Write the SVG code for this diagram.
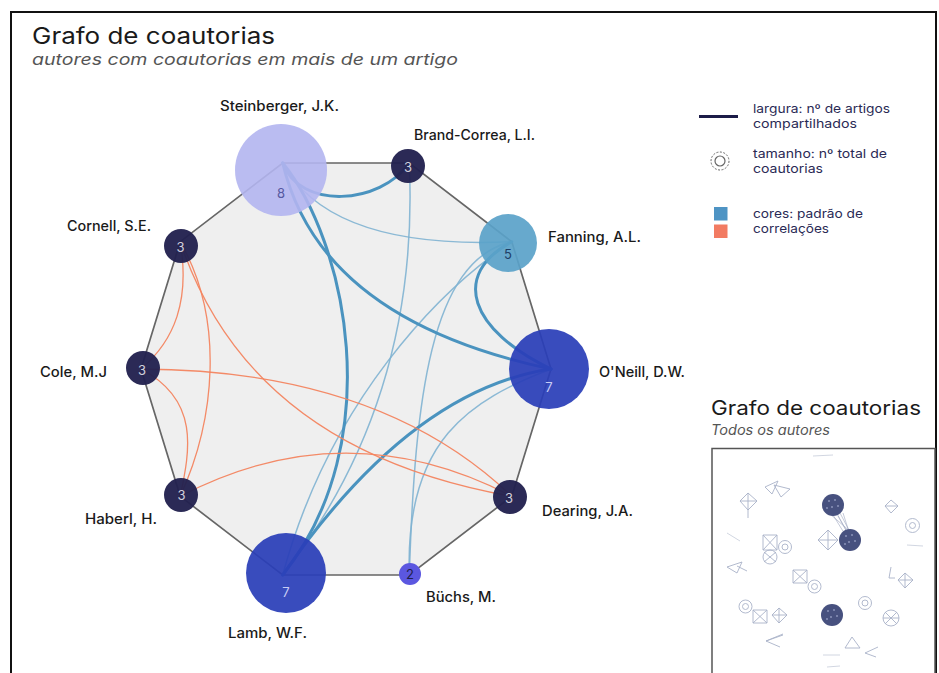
<svg xmlns="http://www.w3.org/2000/svg" width="939" height="673" viewBox="0 0 939 673">
<style>
text{font-family:"Inter","Liberation Sans",sans-serif}
.lbl{font-size:14px;font-weight:500;fill:#1a1a1a}
.num{font-size:13px;text-anchor:middle}
.eb{fill:none;stroke:#4a93bf;stroke-width:3;stroke-linecap:round}
.et{fill:none;stroke:#7fb3d2;stroke-width:1.5;opacity:.9}
.er{fill:none;stroke:#f3845f;stroke-width:1.3;opacity:.95}
.dark{fill:#22214f;opacity:.96}
.leg{font-size:12px;fill:#2a2a55}
.ins{fill:none;stroke:#a9b2c8;stroke-width:.9}
.insl{fill:none;stroke:#c5cbd9;stroke-width:.8}
.blob{fill:#47517f}
</style>
<rect x="0" y="0" width="939" height="673" fill="#fff"/>
<rect x="11" y="12" width="925" height="690" fill="none" stroke="#111" stroke-width="2"/>
<g id="title">
<text x="32" y="44" font-size="22.5" fill="#1a1a1a" textLength="243" lengthAdjust="spacingAndGlyphs">Grafo de coautorias</text>
<text x="32" y="65" font-size="16" font-style="italic" fill="#555" textLength="426" lengthAdjust="spacingAndGlyphs">autores com coautorias em mais de um artigo</text>
</g>
<polygon id="frame-polygon" points="551,369 511.8,496.3 409.3,575 282.7,575 180.2,496.3 141,369 180.2,241.7 282.7,163 409.3,163 511.8,241.7" fill="#efefef" stroke="#666" stroke-width="1.7"/>
<g id="edges">
<path class="et" d="M282.7,163 Q330,250 511.8,241.7"/>
<path class="et" d="M409.3,163 Q420,400 282.7,575"/>
<path class="et" d="M511.8,241.7 C440,290 330,400 282.7,575"/>
<path class="et" d="M511.8,241.7 C430,260 415,400 409.3,575"/>
<path class="et" d="M551,369 C470,400 405,440 409.3,575"/>
<path class="eb" d="M282.7,163 C300,210 380,205 409.3,163"/>
<path class="eb" d="M282.7,163 Q320,320 551,369"/>
<path class="eb" d="M282.7,163 C345,240 390,440 282.7,575"/>
<path class="eb" d="M511.8,241.7 C450,275 470,330 551,369"/>
<path class="eb" d="M551,369 Q410,390 282.7,575"/>
<path class="er" d="M180.2,241.7 C190,300 175,340 141,369"/>
<path class="er" d="M180.2,241.7 C225,320 215,420 180.2,496.3"/>
<path class="er" d="M141,369 C200,400 190,450 180.2,496.3"/>
<path class="er" d="M180.2,241.7 Q250,450 511.8,496.3"/>
<path class="er" d="M141,369 Q380,370 511.8,496.3"/>
<path class="er" d="M180.2,496.3 Q346,410 511.8,496.3"/>
</g>
<g id="node-steinberger">
<circle cx="281" cy="170" r="46" fill="#b2b5f0" opacity=".9"/>
<text class="num" x="281" y="198" fill="#5558a0">8</text>
<text class="lbl" x="220" y="111" textLength="119" lengthAdjust="spacingAndGlyphs">Steinberger, J.K.</text>
</g>
<g id="node-brand-correa">
<circle class="dark" cx="408" cy="166" r="17"/>
<text class="num" x="408" y="172" fill="#d0d0dc">3</text>
<text class="lbl" x="414" y="140" textLength="121" lengthAdjust="spacingAndGlyphs">Brand-Correa, L.I.</text>
</g>
<g id="node-fanning">
<circle cx="508" cy="243" r="29" fill="#5aa2c9" opacity=".92"/>
<text class="num" x="508" y="259" fill="#1f3f66">5</text>
<text class="lbl" x="548" y="242" textLength="93" lengthAdjust="spacingAndGlyphs">Fanning, A.L.</text>
</g>
<g id="node-oneill">
<circle cx="549" cy="369" r="40" fill="#2a3eb8" opacity=".93"/>
<text class="num" x="549" y="392" fill="#c8cdf5">7</text>
<text class="lbl" x="599" y="377" textLength="86" lengthAdjust="spacingAndGlyphs">O'Neill, D.W.</text>
</g>
<g id="node-dearing">
<circle class="dark" cx="510" cy="497" r="17"/>
<text class="num" x="509" y="503" fill="#d0d0dc">3</text>
<text class="lbl" x="542" y="516" textLength="91" lengthAdjust="spacingAndGlyphs">Dearing, J.A.</text>
</g>
<g id="node-buchs">
<circle cx="410" cy="574" r="11" fill="#5b57e0"/>
<text class="num" x="410" y="578.5" fill="#20204a">2</text>
<text class="lbl" x="426" y="602" textLength="70" lengthAdjust="spacingAndGlyphs">Büchs, M.</text>
</g>
<g id="node-lamb">
<circle cx="286" cy="573" r="40" fill="#2a3eb8" opacity=".93"/>
<text class="num" x="286" y="597" fill="#c8cdf5">7</text>
<text class="lbl" x="228" y="638" textLength="79" lengthAdjust="spacingAndGlyphs">Lamb, W.F.</text>
</g>
<g id="node-haberl">
<circle class="dark" cx="181" cy="495" r="17"/>
<text class="num" x="181.5" y="500" fill="#d0d0dc">3</text>
<text class="lbl" x="85" y="524" textLength="72" lengthAdjust="spacingAndGlyphs">Haberl, H.</text>
</g>
<g id="node-cole">
<circle class="dark" cx="143" cy="368" r="17"/>
<text class="num" x="142" y="375" fill="#d0d0dc">3</text>
<text class="lbl" x="40" y="377" textLength="67" lengthAdjust="spacingAndGlyphs">Cole, M.J</text>
</g>
<g id="node-cornell">
<circle class="dark" cx="181" cy="246" r="17"/>
<text class="num" x="180.5" y="252" fill="#d0d0dc">3</text>
<text class="lbl" x="67" y="231" textLength="84" lengthAdjust="spacingAndGlyphs">Cornell, S.E.</text>
</g>
<g id="legend">
<line x1="699" y1="116.5" x2="738" y2="116.5" stroke="#1c1c48" stroke-width="2.8"/>
<text class="leg" x="753" y="112.5" textLength="137" lengthAdjust="spacingAndGlyphs">largura: nº de artigos</text>
<text class="leg" x="753" y="127.5" textLength="104" lengthAdjust="spacingAndGlyphs">compartilhados</text>
<circle cx="720" cy="161" r="9" fill="none" stroke="#666" stroke-width="1" stroke-dasharray="2 1.5"/>
<circle cx="720" cy="161" r="5" fill="none" stroke="#666" stroke-width="1.2"/>
<text class="leg" x="753" y="158" textLength="134" lengthAdjust="spacingAndGlyphs">tamanho: nº total de</text>
<text class="leg" x="753" y="173" textLength="70" lengthAdjust="spacingAndGlyphs">coautorias</text>
<rect x="714" y="207" width="13.5" height="13.5" fill="#4e94c4"/>
<rect x="714" y="224.5" width="13.5" height="13.5" fill="#f27b62"/>
<text class="leg" x="753" y="218" textLength="110" lengthAdjust="spacingAndGlyphs">cores: padrão de</text>
<text class="leg" x="753" y="233" textLength="76" lengthAdjust="spacingAndGlyphs">correlações</text>
</g>
<g id="inset">
<text x="711" y="415" font-size="19.5" fill="#1a1a1a" textLength="210" lengthAdjust="spacingAndGlyphs">Grafo de coautorias</text>
<text x="711" y="435" font-size="14" font-style="italic" fill="#555" textLength="119" lengthAdjust="spacingAndGlyphs">Todos os autores</text>
<rect x="712" y="448.5" width="223" height="240" fill="#fff" stroke="#555" stroke-width="1.5"/>
<line class="insl" x1="813" y1="456" x2="833" y2="455"/>
<path class="ins" d="M765,487 L778,481 L772,494 Z M774,485 L790,489 L781,497 Z"/>
<path class="ins" d="M748,493 L757,501 L748,510 L740,501 Z M748,493 L748,518 M740,501 L757,501"/>
<line class="insl" x1="727" y1="533" x2="740" y2="541"/>
<path class="ins" d="M763,535 H777 V550 H763 Z M763,535 L777,550 M777,535 L763,550"/>
<circle class="ins" cx="785" cy="547" r="6.5"/><circle class="ins" cx="785" cy="547" r="3"/>
<circle class="ins" cx="770" cy="557" r="7"/><path class="ins" d="M764,552 L776,562 M764,562 L776,552"/>
<path class="ins" d="M828,530 L838,540 L828,550 L818,540 Z M818,540 H838 M828,530 V550"/>
<path class="ins" d="M727,567 L742,562 L737,573 Z M737,566 L747,571"/>
<path class="ins" d="M793,570 H807 V583 H793 Z M793,570 L807,583 M807,570 L793,583"/>
<circle class="ins" cx="814.5" cy="586.5" r="6.5"/><circle class="ins" cx="814.5" cy="586.5" r="3"/>
<path class="ins" d="M891,500 L898,506 L891,513 L885,506 Z M885,506 H898"/>
<circle class="ins" cx="912.5" cy="525.5" r="7"/><circle class="ins" cx="912.5" cy="525.5" r="3"/>
<line class="insl" x1="907" y1="545" x2="923" y2="546"/>
<path class="ins" d="M891,567 L889,578 L895,578"/>
<path class="ins" d="M905,573 L913,580 L905,588 L898,580 Z M898,580 H913 M905,573 V588"/>
<circle class="ins" cx="745.5" cy="606.5" r="6.5"/><circle class="ins" cx="745.5" cy="606.5" r="3"/>
<path class="ins" d="M753,610 H767 V623 H753 Z M753,610 L767,623 M767,610 L753,623"/>
<path class="ins" d="M779,608 L787,615 L779,623 L772,615 Z M772,615 H787 M779,608 V623"/>
<path class="ins" d="M783,635 L766,641 L780,647 M766,641 L783,634"/>
<circle class="ins" cx="865" cy="603" r="6.5"/><circle class="ins" cx="865" cy="603" r="3"/>
<circle class="ins" cx="891" cy="618" r="8"/><path class="ins" d="M883,618 H899 M885,612 L897,624 M897,612 L885,624"/>
<path class="ins" d="M852,637 L845,648 L860,648 Z"/>
<path class="ins" d="M878,647 L865,653 L876,657"/>
<line class="insl" x1="823" y1="655" x2="840" y2="655"/>
<line class="insl" x1="827" y1="667" x2="840" y2="666"/>
<g stroke="#8690b0" stroke-width=".6" opacity=".8">
<line x1="836" y1="512" x2="849" y2="535"/><line x1="840" y1="513" x2="851" y2="534"/>
<line x1="833" y1="515" x2="846" y2="536"/><line x1="838" y1="516" x2="848" y2="534"/>
<line x1="843" y1="513" x2="850" y2="535"/><line x1="830" y1="514" x2="852" y2="533"/>
</g>
<circle class="blob" cx="833" cy="505" r="11"/>
<circle class="blob" cx="850" cy="540" r="11"/>
<circle class="blob" cx="832" cy="615" r="11"/>
<g fill="#8a93b8">
<circle cx="829" cy="501" r="1"/><circle cx="835" cy="500" r="1"/><circle cx="832" cy="507" r="1"/><circle cx="838" cy="506" r="1"/><circle cx="827" cy="508" r="1"/>
<circle cx="846" cy="536" r="1"/><circle cx="852" cy="535" r="1"/><circle cx="849" cy="542" r="1"/><circle cx="855" cy="541" r="1"/><circle cx="845" cy="544" r="1"/>
<circle cx="828" cy="611" r="1"/><circle cx="834" cy="610" r="1"/><circle cx="831" cy="617" r="1"/><circle cx="837" cy="616" r="1"/><circle cx="827" cy="619" r="1"/>
</g>
</g>
</svg>
